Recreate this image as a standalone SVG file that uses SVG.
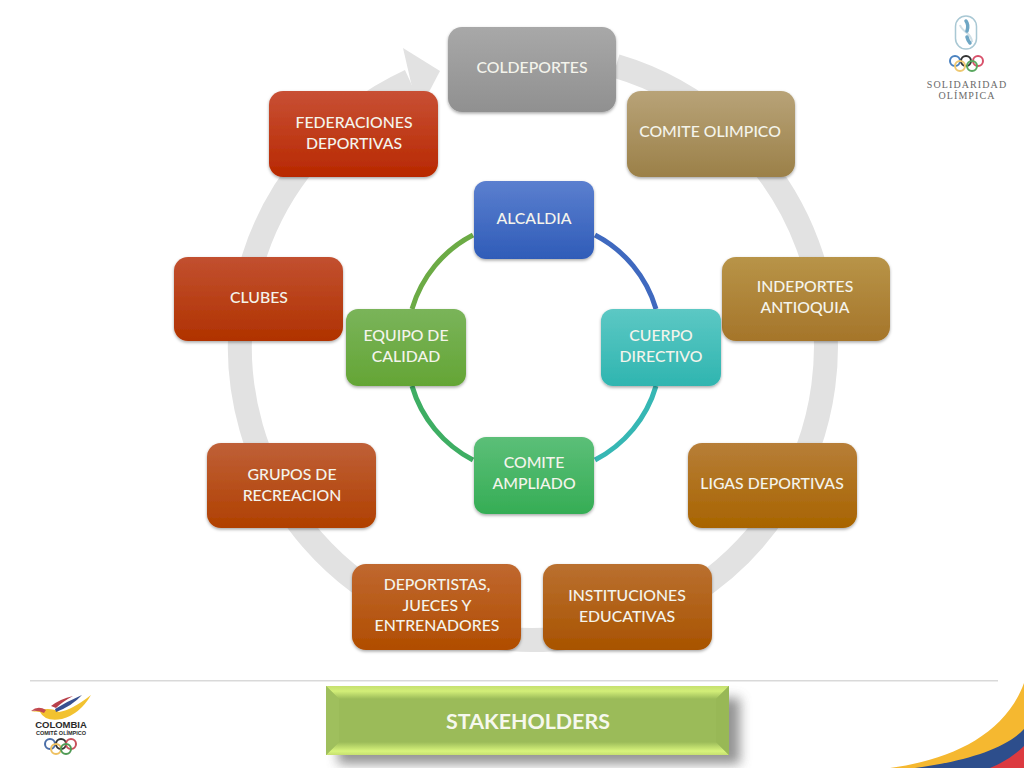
<svg xmlns="http://www.w3.org/2000/svg" width="1024" height="768" viewBox="0 0 1024 768">
<style>
.n{stroke:none;filter:url(#sh)}
.t{font-family:Lato,"Open Sans","Liberation Sans",sans-serif;font-size:15.8px;fill:#f4f4ec;text-anchor:middle;font-weight:500}
.ring{fill:none;stroke-width:2px}
.big{fill:none;stroke:#e2e2e2;stroke-width:24}
.in{fill:none;stroke-width:5}
</style>
<defs>
<filter id="sh" x="-10%" y="-10%" width="120%" height="125%"><feDropShadow dx="0" dy="1.500" stdDeviation="1.500" flood-color="#000" flood-opacity=".35"/></filter>
<filter id="sh2" x="-5%" y="-30%" width="112%" height="170%"><feGaussianBlur stdDeviation="6"/></filter>
<linearGradient id="g1" x2="0" y2="1"><stop offset="0" stop-color="#a8a8a8"/><stop offset="1" stop-color="#909090"/></linearGradient>
<linearGradient id="g2" x2="0" y2="1"><stop offset="0" stop-color="#b8a378"/><stop offset="1" stop-color="#9b8048"/></linearGradient>
<linearGradient id="g3" x2="0" y2="1"><stop offset="0" stop-color="#b89448"/><stop offset="1" stop-color="#a5752a"/></linearGradient>
<linearGradient id="g4" x2="0" y2="1"><stop offset="0" stop-color="#b77e38"/><stop offset="1" stop-color="#a86400"/></linearGradient>
<linearGradient id="g5" x2="0" y2="1"><stop offset="0" stop-color="#ba7030"/><stop offset="1" stop-color="#a85300"/></linearGradient>
<linearGradient id="g6" x2="0" y2="1"><stop offset="0" stop-color="#c06830"/><stop offset="1" stop-color="#b04d00"/></linearGradient>
<linearGradient id="g7" x2="0" y2="1"><stop offset="0" stop-color="#bf6038"/><stop offset="1" stop-color="#b04000"/></linearGradient>
<linearGradient id="g8" x2="0" y2="1"><stop offset="0" stop-color="#c25030"/><stop offset="1" stop-color="#b03200"/></linearGradient>
<linearGradient id="g9" x2="0" y2="1"><stop offset="0" stop-color="#c85035"/><stop offset="1" stop-color="#b82800"/></linearGradient>
<linearGradient id="b1" x2="0" y2="1"><stop offset="0" stop-color="#5b7fcf"/><stop offset="1" stop-color="#2f5cb8"/></linearGradient>
<linearGradient id="b2" x2="0" y2="1"><stop offset="0" stop-color="#5cc8c4"/><stop offset="1" stop-color="#2fb5b0"/></linearGradient>
<linearGradient id="b3" x2="0" y2="1"><stop offset="0" stop-color="#5cbf78"/><stop offset="1" stop-color="#35ad55"/></linearGradient>
<linearGradient id="b4" x2="0" y2="1"><stop offset="0" stop-color="#7ab45a"/><stop offset="1" stop-color="#64a535"/></linearGradient>
<linearGradient id="top" x2="0" y2="1"><stop offset="0" stop-color="#c6e070"/><stop offset=".4" stop-color="#d2ee78"/><stop offset="1" stop-color="#9bbb59"/></linearGradient>
<linearGradient id="bot" x2="0" y2="1"><stop offset="0" stop-color="#9bbb59"/><stop offset=".7" stop-color="#d8f47c"/><stop offset="1" stop-color="#c6e070"/></linearGradient>
</defs>

<g id="connectors">
<path class="big" d="M616 66 A293 293 0 1 1 410 81"/>
<polygon points="403,48 440,71 418,113" fill="#e2e2e2"/>
<path class="in" stroke="#3f69bf" d="M595 235 A122 122 0 0 1 656 309"/>
<path class="in" stroke="#36b7b4" d="M656 386 A122 122 0 0 1 595 460"/>
<path class="in" stroke="#3eae63" d="M473 460 A122 122 0 0 1 412 386"/>
<path class="in" stroke="#6cab45" d="M412 309 A122 122 0 0 1 473 235"/>
</g>

<g id="coldeportes"><rect class="n" x="448" y="27" width="168" height="85" rx="14" fill="url(#g1)"/><text class="t" x="532" y="73">COLDEPORTES</text></g>
<g id="comite-olimpico"><rect class="n" x="627" y="91" width="168" height="86" rx="14" fill="url(#g2)"/><text class="t" x="710" y="137">COMITE OLIMPICO</text></g>
<g id="indeportes"><rect class="n" x="722" y="257" width="168" height="84" rx="14" fill="url(#g3)"/><text class="t" x="805" y="292">INDEPORTES</text><text class="t" x="805" y="313">ANTIOQUIA</text></g>
<g id="ligas"><rect class="n" x="688" y="443" width="169" height="85" rx="14" fill="url(#g4)"/><text class="t" x="772" y="489">LIGAS DEPORTIVAS</text></g>
<g id="instituciones"><rect class="n" x="543" y="564" width="169" height="86" rx="14" fill="url(#g5)"/><text class="t" x="627" y="601">INSTITUCIONES</text><text class="t" x="627" y="622">EDUCATIVAS</text></g>
<g id="deportistas"><rect class="n" x="352" y="564" width="169" height="86" rx="14" fill="url(#g6)"/><text class="t" x="437" y="590">DEPORTISTAS,</text><text class="t" x="437" y="611">JUECES Y</text><text class="t" x="437" y="631">ENTRENADORES</text></g>
<g id="grupos"><rect class="n" x="207" y="443" width="169" height="85" rx="14" fill="url(#g7)"/><text class="t" x="292" y="480">GRUPOS DE</text><text class="t" x="292" y="501">RECREACION</text></g>
<g id="clubes"><rect class="n" x="174" y="257" width="169" height="84" rx="14" fill="url(#g8)"/><text class="t" x="259" y="303">CLUBES</text></g>
<g id="federaciones"><rect class="n" x="269" y="91" width="169" height="86" rx="14" fill="url(#g9)"/><text class="t" x="354" y="128">FEDERACIONES</text><text class="t" x="354" y="149">DEPORTIVAS</text></g>

<g id="alcaldia"><rect class="n" x="474" y="181" width="120" height="78" rx="12" fill="url(#b1)"/><text class="t" x="534" y="224">ALCALDIA</text></g>
<g id="cuerpo"><rect class="n" x="601" y="309" width="120" height="77" rx="12" fill="url(#b2)"/><text class="t" x="661" y="341">CUERPO</text><text class="t" x="661" y="362">DIRECTIVO</text></g>
<g id="comite-ampliado"><rect class="n" x="474" y="437" width="120" height="77" rx="12" fill="url(#b3)"/><text class="t" x="534" y="468">COMITE</text><text class="t" x="534" y="489">AMPLIADO</text></g>
<g id="equipo"><rect class="n" x="346" y="309" width="120" height="77" rx="12" fill="url(#b4)"/><text class="t" x="406" y="341">EQUIPO DE</text><text class="t" x="406" y="362">CALIDAD</text></g>

<rect x="30" y="680" width="968" height="1.500" fill="#d9d9d9"/>

<g id="stakeholders">
<rect x="338" y="698" width="402" height="66" fill="#666" opacity=".7" filter="url(#sh2)"/>
<rect x="326" y="686" width="403" height="69" fill="#9bbb59"/>
<polygon points="326,686 729,686 716,699 339,699" fill="url(#top)"/>
<polygon points="326,755 729,755 716,742 339,742" fill="url(#bot)"/>
<polygon points="326,686 339,699 339,742 326,755" fill="#9fbf5d"/>
<polygon points="729,686 716,699 716,742 729,755" fill="#98b856"/>
<text x="528" y="729" font-family="Lato,'Open Sans','Liberation Sans',sans-serif" font-size="21.400" font-weight="700" fill="#f6f8ee" text-anchor="middle">STAKEHOLDERS</text>
</g>

<g id="solidaridad">
<rect x="955.500" y="16" width="21" height="33" rx="10.500" fill="#fff" stroke="#a9c8d4" stroke-width="1.500"/>
<path d="M960 25 C962 32 972 33 972 42" fill="none" stroke="#cfdfe6" stroke-width="2"/>
<path d="M966 21 Q969 25 967 31" fill="none" stroke="#6ea6c4" stroke-width="3.500" stroke-linecap="round"/>
<path d="M967 37 Q968 41 970 43" fill="none" stroke="#6ea6c4" stroke-width="3.500" stroke-linecap="round"/>
<circle class="ring" cx="955" cy="61" r="5" stroke="#4a82c0"/>
<circle class="ring" cx="966" cy="61" r="5" stroke="#333"/>
<circle class="ring" cx="978" cy="61" r="5" stroke="#d8506a"/>
<circle class="ring" cx="960" cy="66" r="5" stroke="#eec870"/>
<circle class="ring" cx="972" cy="66" r="5" stroke="#5aa860"/>
<text x="967" y="88" font-family="'Liberation Serif',serif" font-size="10" letter-spacing="1.100" fill="#6a6a6a" text-anchor="middle">SOLIDARIDAD</text>
<text x="967" y="99" font-family="'Liberation Serif',serif" font-size="10" letter-spacing="1.100" fill="#6a6a6a" text-anchor="middle">OLÍMPICA</text>
</g>

<g id="colombia">
<path d="M31 712 Q50 706 59 712 Q72 710 91 695 Q80 714 62 719 Q45 722 40 712 Q36 711 31 712Z" fill="#f2c230"/>
<path d="M51 706 Q60 699 73 696 Q62 702 56 708Z" fill="#b8404a"/>
<path d="M55 709 Q68 701 82 695 Q72 706 56 712Z" fill="#38508f"/>
<path d="M31 711 Q38 705 46 710 L44 713 Q38 710 31 711Z" fill="#c24a50"/>
<text x="61" y="728" font-family="'Liberation Sans',sans-serif" font-size="9.500" font-weight="700" fill="#2a2a2a" text-anchor="middle">COLOMBIA</text>
<text x="61" y="735" font-family="'Liberation Sans',sans-serif" font-size="5.500" font-weight="700" fill="#2a2a2a" text-anchor="middle">COMITÉ OLÍMPICO</text>
<circle class="ring" cx="50" cy="744" r="5" stroke="#4a6ea8"/>
<circle class="ring" cx="61" cy="744" r="5" stroke="#333"/>
<circle class="ring" cx="71" cy="744" r="5" stroke="#c8505a"/>
<circle class="ring" cx="56" cy="749" r="5" stroke="#eec060"/>
<circle class="ring" cx="66" cy="749" r="5" stroke="#4f9a55"/>
</g>

<g id="corner">
<path d="M890 768 C950 760 1005 735 1024 683 L1024 768Z" fill="#f5b830"/>
<path d="M915 768 C960 762 1005 750 1024 729 L1024 768Z" fill="#2d4e8c"/>
<path d="M990 768 Q1010 760 1024 746 L1024 768Z" fill="#dc3a40"/>
</g>
</svg>
